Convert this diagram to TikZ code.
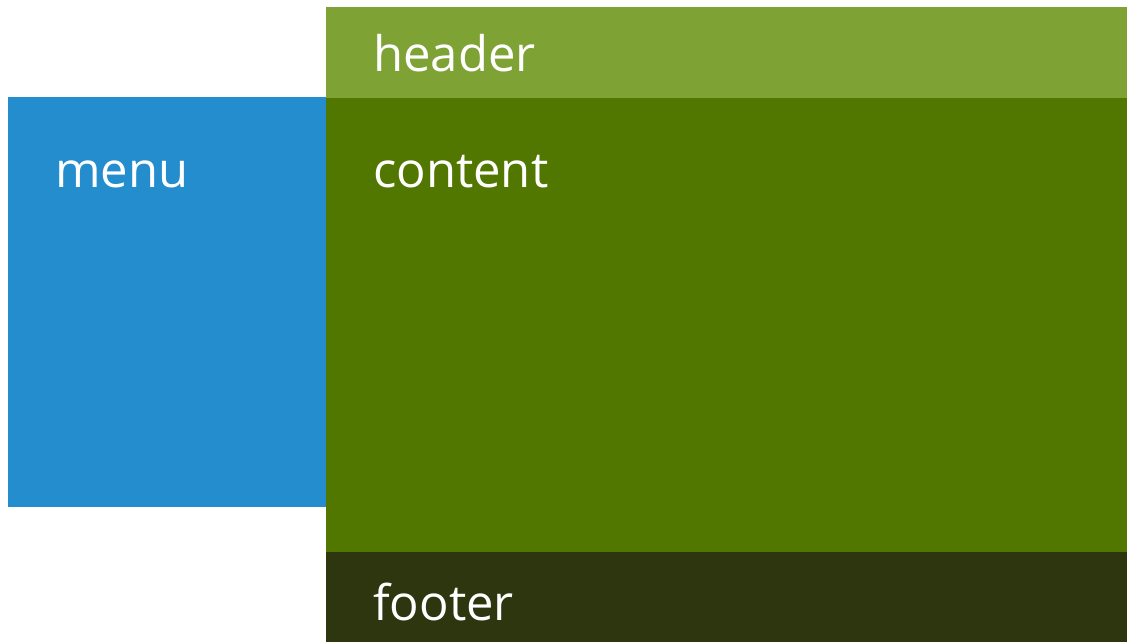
\documentclass[tikz,border=0pt]{standalone}
\usepackage{fontspec}
\setmainfont{Open Sans}
\definecolor{menublue}{HTML}{238DCE}
\definecolor{headgreen}{HTML}{7FA234}
\definecolor{contgreen}{HTML}{527700}
\definecolor{footgreen}{HTML}{2D360F}
\begin{document}
\begin{tikzpicture}[x=1pt,y=-1pt,
  region/.style={inner sep=0pt,outer sep=0pt},
  lbl/.style={anchor=base west,inner sep=0pt,text=white,font=\fontsize{49}{58}\selectfont}]
\useasboundingbox (0,0) rectangle (1127,642);
\fill[menublue] (8,97) rectangle (326,507);
\fill[headgreen] (326,7) rectangle (1127,98);
\fill[contgreen] (326,98) rectangle (1127,552);
\fill[footgreen] (326,552) rectangle (1127,642);
\node[lbl] (header) at (373,72) {header};
\node[lbl] (menu) at (55,187) {menu};
\node[lbl] (content) at (373,187) {content};
\node[lbl] (footer) at (373,620) {footer};
\end{tikzpicture}
\end{document}
